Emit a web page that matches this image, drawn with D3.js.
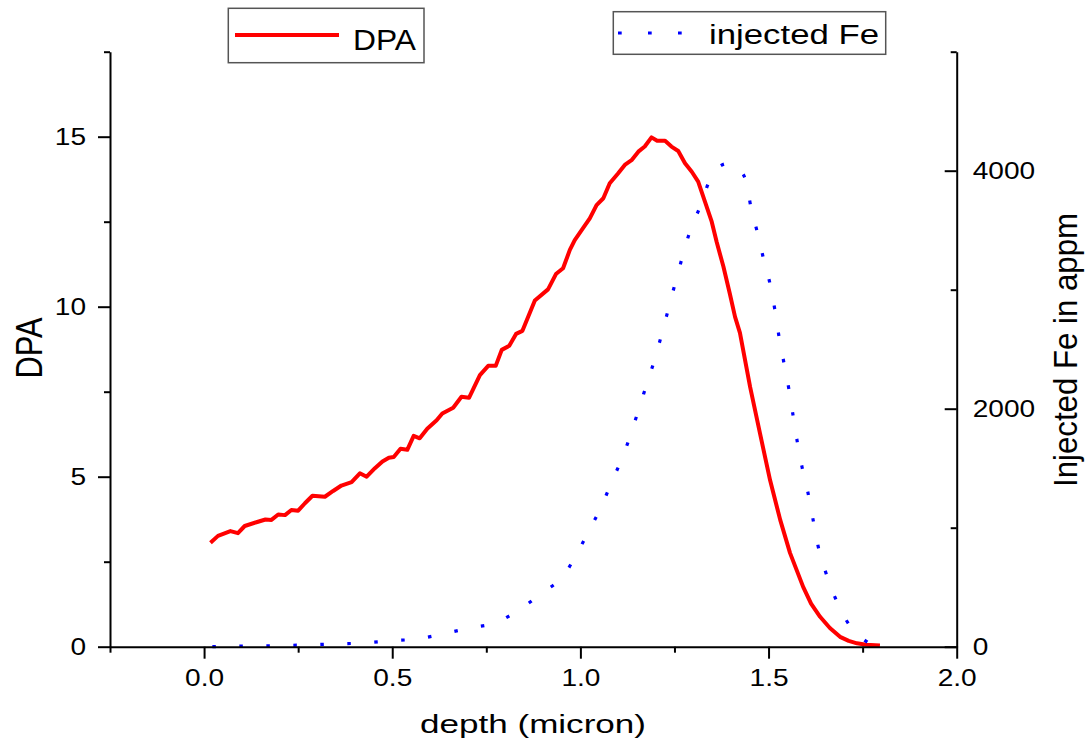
<!DOCTYPE html>
<html>
<head>
<meta charset="utf-8">
<script src="https://cdn.jsdelivr.net/npm/d3@7"></script>
<style>
  html, body { margin: 0; padding: 0; background: #fff; }
  svg text { font-family: "Liberation Sans", Arial, sans-serif; fill: #000; }
</style>
</head>
<body>
<svg id="chart" width="1088" height="742"></svg>
<script>
'use strict';

// DPA profile (red solid line)
const depthDpa = [0.017, 0.037, 0.070, 0.090, 0.108, 0.139, 0.163, 0.179, 0.197, 0.215,
  0.232, 0.250, 0.268, 0.288, 0.321, 0.343, 0.365, 0.392, 0.414, 0.432,
  0.454, 0.474, 0.491, 0.504, 0.522, 0.540, 0.557, 0.573, 0.593, 0.618,
  0.633, 0.662, 0.684, 0.704, 0.733, 0.755, 0.775, 0.791, 0.811, 0.829,
  0.846, 0.879, 0.914, 0.935, 0.954, 0.972, 0.985, 1.007, 1.025, 1.043,
  1.061, 1.078, 1.100, 1.118, 1.136, 1.154, 1.171, 1.189, 1.204, 1.225,
  1.242, 1.260, 1.278, 1.296, 1.313, 1.331, 1.349, 1.362, 1.380, 1.397,
  1.411, 1.424, 1.451, 1.477, 1.504, 1.531, 1.557, 1.592, 1.613, 1.637,
  1.663, 1.690, 1.713, 1.735, 1.759, 1.796];
const dpa = [3.06, 3.26, 3.40, 3.34, 3.55, 3.66, 3.74, 3.73, 3.89, 3.87,
  4.02, 4.00, 4.22, 4.44, 4.41, 4.58, 4.74, 4.84, 5.10, 5.00,
  5.25, 5.45, 5.56, 5.58, 5.82, 5.79, 6.20, 6.13, 6.41, 6.66,
  6.86, 7.03, 7.35, 7.32, 7.99, 8.26, 8.26, 8.73, 8.85, 9.20,
  9.29, 10.18, 10.51, 10.96, 11.13, 11.67, 11.96, 12.31, 12.60, 12.99,
  13.19, 13.63, 13.92, 14.17, 14.31, 14.56, 14.71, 14.98, 14.88, 14.88,
  14.71, 14.58, 14.22, 13.97, 13.68, 13.09, 12.50, 11.91, 11.18, 10.39,
  9.70, 9.23, 7.64, 6.29, 4.90, 3.73, 2.76, 1.76, 1.27, 0.88,
  0.55, 0.29, 0.17, 0.10, 0.06, 0.035];

// injected Fe profile in appm (blue dotted line)
const depthFe = [0.022, 0.104, 0.183, 0.263, 0.343, 0.420, 0.496, 0.566, 0.642, 0.705,
  0.778, 0.846, 0.903, 0.956, 0.993, 1.028, 1.056, 1.084, 1.112, 1.136,
  1.157, 1.179, 1.198, 1.217, 1.235, 1.253, 1.272, 1.292, 1.318, 1.343,
  1.367, 1.391, 1.415, 1.440, 1.453, 1.470, 1.486, 1.504, 1.517, 1.528,
  1.541, 1.554, 1.565, 1.576, 1.589, 1.605, 1.618, 1.631, 1.650, 1.674,
  1.706, 1.751, 1.785];
const fe = [0, 6, 8, 14, 23, 31, 50, 65, 113, 157,
  205, 331, 462, 600, 796, 1006, 1180, 1392, 1592, 1807,
  2014, 2233, 2420, 2636, 2852, 3067, 3286, 3499, 3697, 3916,
  4030, 4060, 4030, 3916, 3695, 3485, 3269, 3048, 2827, 2602,
  2384, 2166, 1947, 1729, 1510, 1291, 1073, 855, 645, 435,
  225, 65, 0];

const xMajor = [0, 0.5, 1.0, 1.5, 2.0];
const xMinor = [-0.25, 0.25, 0.75, 1.25, 1.75];
const yMajor = [0, 5, 10, 15];
const yMinor = [2.5, 7.5, 12.5, 17.5];
const feMajor = [0, 2000, 4000];
const feMinor = [1000, 3000, 5000];

const svg = d3.select('#chart');
const font = '"Liberation Sans", Arial, sans-serif';
const stretch = 1.22; // glyphs in the picture are wider than tall

const x = d3.scaleLinear().domain([-0.25, 2.0]).range([110, 956.7]);
const yL = d3.scaleLinear().domain([0, 17.5]).range([646.7, 51.7]);
const yR = d3.scaleLinear().domain([0, 5000]).range([646.7, 51.7]);

function widen(sel, k) {
  sel.each(function() {
    const w = this.getComputedTextLength();
    d3.select(this).attr('textLength', w * k).attr('lengthAdjust', 'spacingAndGlyphs');
  });
}

function styleAxis(g) {
  g.selectAll('path, line').attr('stroke', '#000').attr('stroke-width', 2);
  g.selectAll('text').attr('font-family', font).attr('font-size', 23).attr('fill', '#000');
}

// curves first, axes over them
const lineDpa = d3.line()
  .x((d, i) => x(depthDpa[i]))
  .y(d => yL(d));
svg.append('path')
  .datum(dpa)
  .attr('fill', 'none')
  .attr('stroke', '#ff0000')
  .attr('stroke-width', 4)
  .attr('stroke-linejoin', 'round')
  .attr('d', lineDpa);

const lineFe = d3.line()
  .x((d, i) => x(depthFe[i]))
  .y(d => yR(d))
  .curve(d3.curveMonotoneX);
svg.append('path')
  .datum(fe)
  .attr('fill', 'none')
  .attr('stroke', '#0000ff')
  .attr('stroke-width', 3.2)
  .attr('stroke-dasharray', '3.5 23.5')
  .attr('d', lineFe);

// x axis
const gx = svg.append('g').attr('transform', `translate(0,${yL(0)})`);
gx.call(d3.axisBottom(x).tickValues(xMajor).tickSize(12).tickSizeOuter(0).tickPadding(11)
  .tickFormat(d3.format('.1f')));
styleAxis(gx);
widen(gx.selectAll('text'), stretch);
const gxm = svg.append('g').attr('transform', `translate(0,${yL(0)})`);
gxm.call(d3.axisBottom(x).tickValues(xMinor).tickSize(6).tickSizeOuter(0).tickFormat(''));
styleAxis(gxm);
gxm.select('.domain').remove();

// left axis (DPA)
const gy = svg.append('g').attr('transform', `translate(${x(-0.25)},0)`);
gy.call(d3.axisLeft(yL).tickValues(yMajor).tickSize(12).tickSizeOuter(0).tickPadding(12)
  .tickFormat(d3.format('d')));
styleAxis(gy);
widen(gy.selectAll('text'), stretch);
const gym = svg.append('g').attr('transform', `translate(${x(-0.25)},0)`);
gym.call(d3.axisLeft(yL).tickValues(yMinor).tickSize(6).tickSizeOuter(0).tickFormat(''));
styleAxis(gym);
gym.select('.domain').remove();

// right axis (Fe), ticks pointing inward
const gr = svg.append('g').attr('transform', `translate(${x(2.0)},0)`);
gr.call(d3.axisRight(yR).tickValues(feMajor).tickSize(-12).tickSizeOuter(0).tickPadding(16)
  .tickFormat(d3.format('d')));
styleAxis(gr);
widen(gr.selectAll('text'), stretch);
const grm = svg.append('g').attr('transform', `translate(${x(2.0)},0)`);
grm.call(d3.axisRight(yR).tickValues(feMinor).tickSize(-6).tickSizeOuter(0).tickFormat(''));
styleAxis(grm);
grm.select('.domain').remove();

// axis titles
svg.append('text')
  .attr('x', 533).attr('y', 733)
  .attr('text-anchor', 'middle')
  .attr('font-size', 26)
  .attr('textLength', 226).attr('lengthAdjust', 'spacingAndGlyphs')
  .text('depth (micron)');

svg.append('text')
  .attr('transform', 'translate(41.7,348) rotate(-90)')
  .attr('text-anchor', 'middle')
  .attr('font-size', 37)
  .attr('textLength', 61).attr('lengthAdjust', 'spacingAndGlyphs')
  .text('DPA');

svg.append('text')
  .attr('transform', 'translate(1077,350) rotate(-90)')
  .attr('text-anchor', 'middle')
  .attr('font-size', 33)
  .attr('textLength', 274).attr('lengthAdjust', 'spacingAndGlyphs')
  .text('Injected Fe in appm');

// legends
const legDpa = svg.append('g');
legDpa.append('rect')
  .attr('x', 228.3).attr('y', 8.3).attr('width', 195.7).attr('height', 54.4)
  .attr('fill', '#fff').attr('stroke', '#555').attr('stroke-width', 1.5);
legDpa.append('line')
  .attr('x1', 235).attr('x2', 339).attr('y1', 35).attr('y2', 35)
  .attr('stroke', '#ff0000').attr('stroke-width', 4);
legDpa.append('text')
  .attr('x', 353).attr('y', 50)
  .attr('font-size', 29)
  .attr('textLength', 63).attr('lengthAdjust', 'spacingAndGlyphs')
  .text('DPA');

const legFe = svg.append('g');
legFe.append('rect')
  .attr('x', 613.3).attr('y', 11.7).attr('width', 272.4).attr('height', 42.6)
  .attr('fill', '#fff').attr('stroke', '#555').attr('stroke-width', 1.5);
legFe.append('line')
  .attr('x1', 618).attr('x2', 700).attr('y1', 33).attr('y2', 33)
  .attr('stroke', '#0000ff').attr('stroke-width', 3)
  .attr('stroke-dasharray', '3.7 26.3');
legFe.append('text')
  .attr('x', 709).attr('y', 44.3)
  .attr('font-size', 27)
  .attr('textLength', 170).attr('lengthAdjust', 'spacingAndGlyphs')
  .text('injected Fe');
</script>
</body>
</html>
